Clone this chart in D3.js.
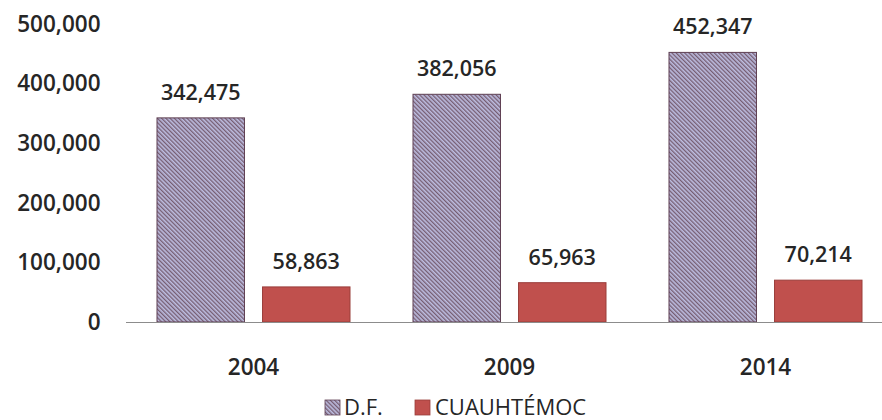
<!DOCTYPE html>
<html>
<head>
<meta charset="utf-8">
<script src="https://cdn.jsdelivr.net/npm/d3@7"></script>
<style>
  body { margin: 0; background: #fff; }
  svg { display: block; font-family: "Open Sans", sans-serif; }
</style>
</head>
<body>
<div id="chart"></div>
<script>
// values
var years = ["2004", "2009", "2014"];
var series = ["D.F.", "CUAUHTÉMOC"];
var dfValues = [342475, 382056, 452347];
var cuauhtemocValues = [58863, 65963, 70214];
var yTicks = [0, 100000, 200000, 300000, 400000, 500000];

var svgWidth = 882;
var svgHeight = 420;

var svg = d3.select("#chart")
            .append("svg")
            .attr("width", svgWidth)
            .attr("height", svgHeight);

// hatch for the D.F. bars
var defs = svg.append("defs");
var hatch = defs.append("pattern")
                .attr("id", "hatch")
                .attr("patternUnits", "userSpaceOnUse")
                .attr("width", 3)
                .attr("height", 3)
                .attr("patternTransform", "rotate(-45)");
hatch.append("rect")
     .attr("width", 3)
     .attr("height", 3)
     .attr("fill", "#bdbde0");
hatch.append("line")
     .attr("x1", 0.7).attr("y1", 0)
     .attr("x2", 0.7).attr("y2", 3)
     .attr("stroke", "#6e5266")
     .attr("stroke-width", 1.2);

var colors = ["url(#hatch)", "#c0504d"];
var strokes = ["#5e3f52", "#9a3e3b"];

var data = years.map(function(y, i) {
    return {year: y, values: [dfValues[i], cuauhtemocValues[i]]};
});

// the chart is cut on the right, so the range runs past the window
var x0 = d3.scaleBand()
           .domain(years)
           .range([125.5, 893.5])
           .paddingInner(63 / 256)
           .paddingOuter(31.5 / 256);

var x1 = d3.scaleBand()
           .domain(series)
           .range([0, x0.bandwidth()])
           .paddingInner(0.171);

var yScale = d3.scaleLinear()
               .domain([0, 500000])
               .range([322, 24]);

// y axis labels only
var yAxis = d3.axisLeft(yScale)
              .tickValues(yTicks)
              .tickFormat(d3.format(","))
              .tickSize(0)
              .tickPadding(25);
var gy = svg.append("g")
            .attr("transform", "translate(125.5,0)")
            .call(yAxis);
gy.select(".domain").remove();
gy.selectAll("text")
  .attr("font-family", "Open Sans")
  .attr("font-size", 22.5)
  .attr("font-weight", 600)
  .attr("fill", "#262626");

// bars
var groups = svg.selectAll(".grp")
                .data(data)
                .enter()
                .append("g")
                .attr("class", "grp")
                .attr("transform", d => `translate(${x0(d.year)},0)`);

groups.selectAll("rect")
      .data(d => d.values.map((v, i) => ({name: series[i], value: v, idx: i})))
      .enter()
      .append("rect")
      .attr("x", d => x1(d.name))
      .attr("y", d => yScale(d.value))
      .attr("width", x1.bandwidth())
      .attr("height", d => yScale(0) - yScale(d.value))
      .attr("fill", d => colors[d.idx])
      .attr("stroke", d => strokes[d.idx])
      .attr("stroke-width", 1);

groups.selectAll(".val")
      .data(d => d.values.map((v, i) => ({name: series[i], value: v})))
      .enter()
      .append("text")
      .attr("class", "val")
      .attr("x", d => x1(d.name) + x1.bandwidth() / 2)
      .attr("y", d => yScale(d.value) - 18)
      .attr("text-anchor", "middle")
      .attr("font-size", 21.5)
      .attr("font-weight", 600)
      .attr("fill", "#262626")
      .text(d => d3.format(",")(d.value));

// x axis
var xAxis = d3.axisBottom(x0).tickSize(0).tickPadding(0);
var gx = svg.append("g")
            .attr("transform", "translate(0,322)")
            .call(xAxis);
gx.select(".domain")
  .attr("stroke", "#8c8c8c")
  .attr("stroke-width", 1.2);
gx.selectAll("text")
  .attr("y", 53)
  .attr("dy", 0)
  .attr("font-family", "Open Sans")
  .attr("font-size", 22.5)
  .attr("font-weight", 600)
  .attr("fill", "#262626");

// legend
var legendX = [325, 415];
var legend = svg.selectAll(".leg")
                .data(series)
                .enter()
                .append("g")
                .attr("class", "leg")
                .attr("transform", (d, i) => `translate(${legendX[i]},400)`);
legend.append("rect")
      .attr("width", 15)
      .attr("height", 15)
      .attr("fill", (d, i) => colors[i])
      .attr("stroke", (d, i) => strokes[i])
      .attr("stroke-width", 0.8);
legend.append("text")
      .attr("x", (d, i) => i == 0 ? 19 : 20)
      .attr("y", 15)
      .attr("font-size", 22)
      .attr("fill", "#262626")
      .text(d => d);
</script>
</body>
</html>
